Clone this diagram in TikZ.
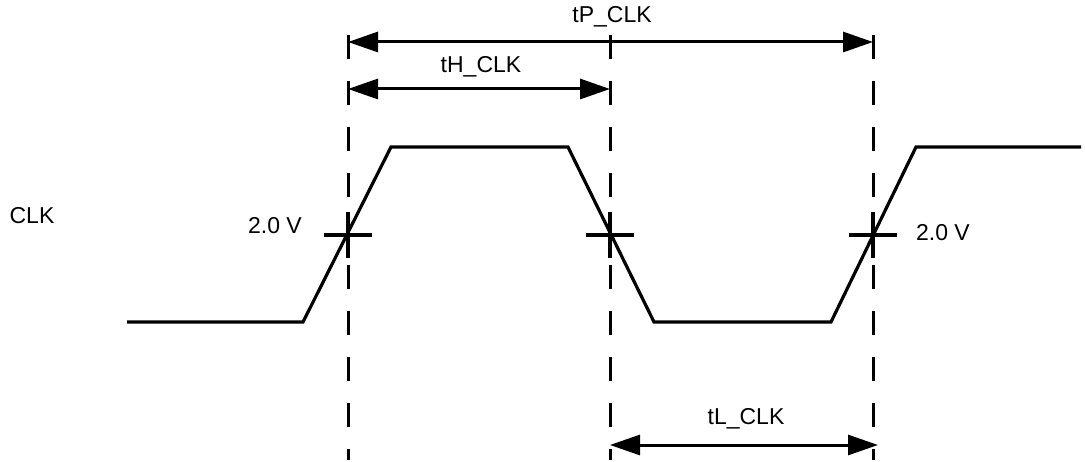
\documentclass[tikz,border=0pt]{standalone}
\usepackage{fontspec}
\setmainfont{Liberation Sans}
\usetikzlibrary{arrows.meta}
\begin{document}
\begin{tikzpicture}[x=1pt,y=-1pt,
  wave/.style={line width=3.2pt,line join=miter},
  guide/.style={line width=3pt,dash pattern=on 24pt off 22pt},
  tick/.style={line width=3.2pt},
  dim/.style={line width=3pt,{Triangle[length=30pt,width=20pt]}-{Triangle[length=30pt,width=20pt]}},
  lbl/.style={font=\fontsize{23}{27}\selectfont,inner sep=0pt}]
\useasboundingbox (0,0) rectangle (1085,462);
% waveform
\coordinate (w0) at (127,322);
\coordinate (w1) at (303,322);
\coordinate (w2) at (391,147);
\coordinate (w3) at (568,147);
\coordinate (w4) at (654,322);
\coordinate (w5) at (831,322);
\coordinate (w6) at (916,147);
\coordinate (w7) at (1081,147);
\draw[wave] (w0) -- (w1) -- (w2) -- (w3) -- (w4) -- (w5) -- (w6) -- (w7);
% crossing points
\coordinate (c1) at (348,235);
\coordinate (c2) at (610,235);
\coordinate (c3) at (873,235);
% guides
\coordinate (g1t) at (348,35); \coordinate (g1b) at (348,460);
\coordinate (g2t) at (610,35); \coordinate (g2b) at (610,460);
\coordinate (g3t) at (873,35); \coordinate (g3b) at (873,460);
\draw[guide] (g1t) -- (g1b);
\draw[guide] (g2t) -- (g2b);
\draw[guide] (g3t) -- (g3b);
% crosses
\foreach \c in {c1,c2,c3}{
  \draw[tick] ([xshift=-24pt]\c) -- ([xshift=24pt]\c);
  \draw[tick] ([yshift=-23pt]\c) -- ([yshift=23pt]\c);
}
% dimension arrows
\coordinate (p1) at (348,42); \coordinate (p2) at (873,42);
\coordinate (h1) at (348,89); \coordinate (h2) at (610,89);
\coordinate (l1) at (610,445); \coordinate (l2) at (878,445);
\draw[dim] (p1) -- (p2);
\draw[dim] (h1) -- (h2);
\draw[dim] (l1) -- (l2);
% labels
\node[lbl] (tp) at (612,17) {tP\_CLK};
\node[lbl] (th) at (481,67) {tH\_CLK};
\node[lbl] (tl) at (746,419) {tL\_CLK};
\node[lbl] (clk) at (32,216) {CLK};
\node[lbl] (v1) at (275,226) {2.0 V};
\node[lbl] (v2) at (943,233) {2.0 V};
\end{tikzpicture}
\end{document}
